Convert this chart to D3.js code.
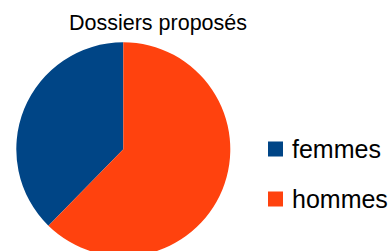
<!DOCTYPE html>
<html><head><meta charset="utf-8">
<script src="https://cdn.jsdelivr.net/npm/d3@7"></script>
<style>body{margin:0;background:#fff}svg{display:block}</style>
</head><body>
<svg id="c" width="392" height="251"></svg>
<script>
const categories = ["femmes", "hommes"];
const values = [29, 48];
const colors = ["#004586", "#ff420e"];
const title = "Dossiers proposés";

const svg = d3.select("#c");
const font = "'Liberation Sans', Arial, sans-serif";
const cx = 123.3, cy = 149.3, r = 107;

const pie = d3.pie().sort(null).startAngle(0).endAngle(-2 * Math.PI);
const arc = d3.arc().innerRadius(0).outerRadius(r);
const color = d3.scaleOrdinal().domain(categories).range(colors);

svg.append("g").attr("transform", `translate(${cx},${cy})`)
  .selectAll("path").data(pie(values)).join("path")
  .attr("d", arc).attr("fill", (d, i) => color(categories[i]));

svg.append("text").attr("x", 158).attr("y", 30).attr("text-anchor", "middle")
  .attr("font-family", font).attr("font-size", 21.5).attr("fill", "#000").text(title);

const ly = d3.scalePoint().domain(categories).range([149, 199]);
const lg = svg.append("g").selectAll("g").data(categories).join("g")
  .attr("transform", d => `translate(268,${ly(d)})`);
lg.append("rect").attr("x", 0).attr("y", -7.5).attr("width", 15).attr("height", 15)
  .attr("fill", d => color(d));
lg.append("text").attr("x", 24).attr("y", 9).attr("font-family", font)
  .attr("font-size", 25).attr("fill", "#000").text(d => d);
</script>
</body></html>
